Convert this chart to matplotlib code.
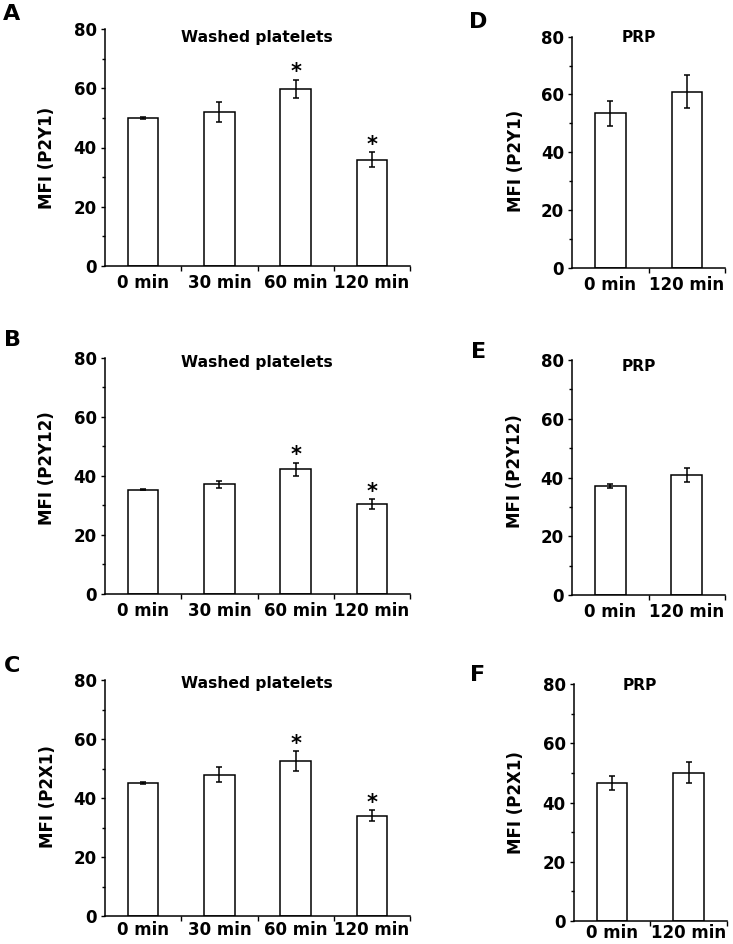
import matplotlib
matplotlib.use("Agg")
import matplotlib.pyplot as plt
import numpy as np

plt.rcParams['font.family'] = ['DejaVu Sans']
plt.rcParams['font.weight'] = 'bold'

# ---- data ----
cats_washed = ["0 min", "30 min", "60 min", "120 min"]
cats_prp = ["0 min", "120 min"]

p2y1_washed = [50.0, 52.1, 59.8, 35.9]
p2y1_washed_err = [0.3, 3.4, 3.1, 2.5]
p2y12_washed = [35.3, 37.1, 42.3, 30.4]
p2y12_washed_err = [0.2, 1.2, 2.2, 1.6]
p2x1_washed = [45.1, 47.9, 52.6, 34.0]
p2x1_washed_err = [0.3, 2.6, 3.4, 1.8]
stars_washed = [False, False, True, True]

p2y1_prp = [53.5, 61.0]
p2y1_prp_err = [4.4, 5.8]
p2y12_prp = [37.1, 40.7]
p2y12_prp_err = [0.8, 2.4]
p2x1_prp = [46.6, 50.1]
p2x1_prp_err = [2.4, 3.6]

W, H = 733, 944
fig = plt.figure(figsize=(W / 100, H / 100), dpi=100)


def px_axes(left, right, top, bottom):
    return fig.add_axes([left / W, 1 - bottom / H, (right - left) / W, (bottom - top) / H])


panels = [
    # letter, cats, vals, errs, ylabel, title, (l, r, t, b), stars, title_xy, ylabel_xy, letter_xy, xpad
    ("A", cats_washed, p2y1_washed, p2y1_washed_err, "MFI (P2Y1)", "Washed platelets",
     (105, 410, 29, 266), stars_washed, (0.497, 0.966), (-0.161, 0.458), (12, 14), 6),
    ("B", cats_washed, p2y12_washed, p2y12_washed_err, "MFI (P2Y12)", "Washed platelets",
     (105, 410, 357.7, 594), stars_washed, (0.497, 0.978), (-0.161, 0.533), (12.5, 340), 6),
    ("C", cats_washed, p2x1_washed, p2x1_washed_err, "MFI (P2X1)", "Washed platelets",
     (105, 410, 680, 916), stars_washed, (0.497, 0.986), (-0.158, 0.504), (12, 666), 3.5),
    ("D", cats_prp, p2y1_prp, p2y1_prp_err, "MFI (P2Y1)", "PRP",
     (572.3, 725, 36.7, 267.7), None, (0.437, 0.998), (-0.31, 0.464), (478, 22.5), 6),
    ("E", cats_prp, p2y12_prp, p2y12_prp_err, "MFI (P2Y12)", "PRP",
     (572, 725, 360, 595), None, (0.437, 0.971), (-0.316, 0.526), (478.3, 351.7), 6),
    ("F", cats_prp, p2x1_prp, p2x1_prp_err, "MFI (P2X1)", "PRP",
     (574, 726.7, 684.3, 921), None, (0.43, 0.994), (-0.32, 0.50), (477.5, 675), 2),
]

for letter, cats, vals, errs, ylabel, title, box, stars, txy, lxy, lettxy, xpad in panels:
    ax = px_axes(*box)
    x = np.arange(len(cats))
    ax.bar(x, vals, width=0.4, color="white", edgecolor="black", linewidth=1.1, zorder=2)
    ax.errorbar(x, vals, yerr=errs, fmt="none", ecolor="black", elinewidth=1.1,
                capsize=2.5, capthick=1.1, zorder=3)
    ax.set_xlim(-0.5, len(cats) - 0.5)
    ax.set_ylim(0, 80)
    ax.set_yticks([0, 20, 40, 60, 80])
    ax.set_yticks([10, 30, 50, 70], minor=True)
    ax.set_xticks(x)
    ax.set_xticklabels(cats, fontsize=12, fontweight="bold")
    ax.set_xticks(np.arange(len(cats)) + 0.5, minor=True)
    ax.tick_params(axis="x", which="major", length=0, pad=xpad)
    ax.tick_params(axis="x", which="minor", length=3.5, width=1.0, direction="out")
    ax.tick_params(axis="y", which="major", length=3, width=1.0, pad=3, labelsize=12)
    ax.tick_params(axis="y", which="minor", length=2.5, width=1.0)
    for lab in ax.get_yticklabels():
        lab.set_fontweight("bold")
    for s in ("top", "right"):
        ax.spines[s].set_visible(False)
    for s in ("left", "bottom"):
        ax.spines[s].set_linewidth(1.1)
    ax.set_ylabel(ylabel, fontsize=12, fontweight="bold")
    ax.yaxis.set_label_coords(*lxy)
    ax.text(txy[0], txy[1], title, transform=ax.transAxes, ha="center", va="center",
            fontsize=11.2, fontweight="bold")
    if stars is not None:
        for xi, v, e, st in zip(x, vals, errs, stars):
            if st:
                ax.annotate("*", (xi, v + e), xytext=(0, -2), textcoords="offset points",
                            ha="center", va="bottom", fontsize=15, fontweight="bold")
    fig.text(lettxy[0] / W, 1 - lettxy[1] / H, letter, ha="center", va="center",
             fontsize=16, fontweight="bold")

fig.savefig("out.png", dpi=100)
